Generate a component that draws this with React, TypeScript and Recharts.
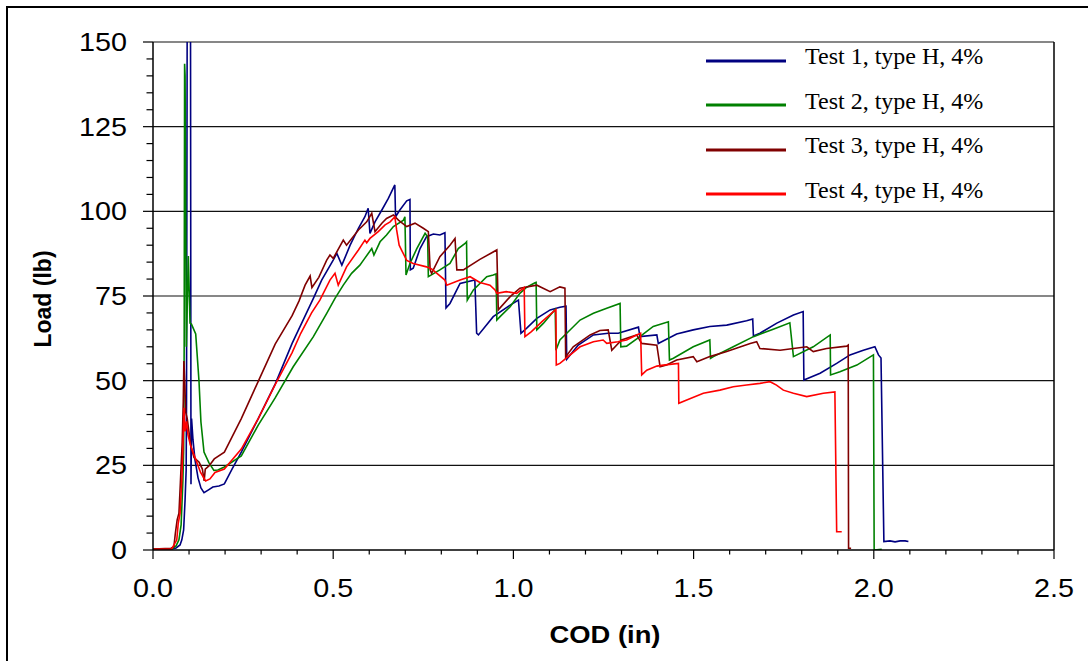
import { LineChart, Line, XAxis, YAxis, ReferenceLine, Legend } from 'recharts';

const ARIAL = '"Liberation Sans", Arial, sans-serif';
const TIMES = '"Liberation Serif", "Times New Roman", serif';

// axis ticks (minor every 0.1 in / 5 lb, labelled every 0.5 in / 25 lb)
const codTicks = [0, 0.1, 0.2, 0.3, 0.4, 0.5, 0.6, 0.7, 0.8, 0.9, 1.0, 1.1, 1.2, 1.3, 1.4, 1.5, 1.6, 1.7, 1.8, 1.9, 2.0, 2.1, 2.2, 2.3, 2.4, 2.5];
const loadTicks = [0, 5, 10, 15, 20, 25, 30, 35, 40, 45, 50, 55, 60, 65, 70, 75, 80, 85, 90, 95, 100, 105, 110, 115, 120, 125, 130, 135, 140, 145, 150];
const gridLoads = [25, 50, 75, 100, 125, 150];

// [COD (in), Load (lb)]
const test1 = [
  [0, 0.2], [0.053, 0.3], [0.064, 0.6], [0.075, 1.5], [0.08, 3], [0.085, 5.9], [0.089, 14.8], [0.092, 23.6],
  [0.093, 44], [0.095, 165], [0.104, 165], [0.1054, 19.4], [0.107, 38.8], [0.111, 32.5], [0.1165, 26.6],
  [0.125, 21.3], [0.133, 18.3], [0.1415, 16.9], [0.153, 17.7], [0.166, 18.6], [0.183, 18.9], [0.198, 19.5],
  [0.22, 24], [0.245, 28.9], [0.292, 38.8], [0.339, 49], [0.386, 61], [0.445, 74.3], [0.468, 79.7], [0.5, 85.6],
  [0.51, 87.6], [0.524, 84.1], [0.547, 90], [0.57, 95], [0.588, 98.4], [0.597, 100.9], [0.602, 93.5],
  [0.616, 96.9], [0.635, 100.4], [0.653, 103.8], [0.671, 107.8], [0.673, 98.4], [0.685, 100.4], [0.704, 103.1],
  [0.713, 103.5], [0.714, 82.7], [0.722, 83.2], [0.741, 89], [0.759, 92.5], [0.778, 93.3], [0.796, 93],
  [0.81, 93.7], [0.813, 71.5], [0.824, 72.8], [0.852, 78.7], [0.893, 79.7], [0.898, 64], [0.903, 63.5],
  [0.944, 68.9], [0.991, 72.3], [1.014, 73.8], [1.021, 64], [1.037, 65.5], [1.065, 68.4], [1.102, 70.9],
  [1.129, 71.7], [1.146, 72], [1.148, 56.3], [1.18, 60.5], [1.222, 63.5], [1.263, 64], [1.291, 64],
  [1.347, 65.8], [1.351, 63], [1.398, 63.5], [1.402, 61], [1.453, 63.8], [1.499, 65], [1.545, 66], [1.592, 66.4],
  [1.647, 67.7], [1.664, 68.2], [1.666, 63.2], [1.684, 64], [1.731, 67], [1.777, 69.4], [1.804, 70.4],
  [1.806, 50.2], [1.851, 52.2], [1.897, 55.1], [1.934, 57.6], [1.971, 59], [2.003, 60], [2.013, 57.6],
  [2.02, 56.7], [2.028, 2.5], [2.045, 2.7], [2.059, 2.4], [2.073, 2.7], [2.087, 2.7], [2.096, 2.5],
];

const test2 = [
  [0, 0.3], [0.053, 0.4], [0.064, 1.2], [0.072, 3], [0.078, 7.4], [0.083, 20.7], [0.085, 29.5], [0.0865, 60],
  [0.0877, 143.6], [0.089, 140], [0.0925, 60], [0.098, 86.8], [0.1027, 67], [0.1066, 66.7], [0.1185, 63.8],
  [0.1276, 49.9], [0.133, 37.8], [0.1415, 28.9], [0.155, 25.8], [0.169, 23.5], [0.18, 23.6], [0.198, 24.5],
  [0.245, 27.8], [0.292, 36.9], [0.339, 44.9], [0.389, 54.1], [0.445, 63], [0.482, 69.9], [0.505, 74.3],
  [0.528, 78.2], [0.551, 81.7], [0.574, 84.1], [0.584, 85.6], [0.607, 89], [0.613, 87.1], [0.63, 91],
  [0.648, 93], [0.667, 95.5], [0.695, 97.4], [0.699, 98.4], [0.702, 81.2], [0.713, 84.6], [0.732, 89],
  [0.755, 93.5], [0.762, 92.5], [0.764, 80.7], [0.796, 82.7], [0.824, 84.6], [0.847, 89], [0.866, 90.5],
  [0.87, 91], [0.872, 73.8], [0.889, 76.8], [0.926, 80.7], [0.944, 81.2], [0.952, 81.5], [0.954, 67.9],
  [0.963, 68.9], [0.991, 71.8], [1.018, 75.8], [1.037, 77.6], [1.06, 78.9], [1.063, 79], [1.065, 65],
  [1.083, 66.9], [1.111, 70.4], [1.116, 71], [1.118, 59], [1.129, 62], [1.148, 64], [1.185, 67.9],
  [1.222, 69.9], [1.259, 71.4], [1.296, 72.8], [1.298, 60], [1.314, 60.2], [1.351, 63], [1.388, 66],
  [1.43, 67.4], [1.433, 56.1], [1.444, 56.6], [1.499, 60], [1.545, 62], [1.547, 56.6], [1.555, 57.1],
  [1.61, 60], [1.666, 63], [1.721, 65.2], [1.767, 67.1], [1.777, 57.1], [1.832, 60], [1.879, 63.5],
  [1.88, 51.7], [1.906, 52.6], [1.953, 54.6], [1.999, 57.6], [2.001, 0], [2.022, 0.2],
];

const test3 = [
  [0, 0.3], [0.05, 0.5], [0.058, 1], [0.062, 4.9], [0.067, 8.9], [0.072, 10.9], [0.076, 19.9], [0.081, 31.9],
  [0.084, 43.8], [0.0857, 55.8], [0.0885, 48.8], [0.0905, 40.8], [0.095, 38.8], [0.0999, 34.8], [0.1046, 30.9],
  [0.1138, 27.3], [0.128, 25.9], [0.137, 23.9], [0.142, 20.4], [0.145, 23.9], [0.156, 24.9], [0.17, 26.9],
  [0.198, 28.9], [0.245, 38.8], [0.292, 49.8], [0.339, 60.8], [0.386, 69.2], [0.405, 73.5], [0.422, 78.2],
  [0.436, 80.9], [0.441, 77.5], [0.46, 80.5], [0.482, 85.6], [0.491, 87.1], [0.5, 86.1], [0.528, 91.5],
  [0.537, 90], [0.57, 94.5], [0.593, 96.9], [0.607, 99.4], [0.616, 94], [0.635, 96.5], [0.648, 97.9],
  [0.667, 98.9], [0.681, 97.4], [0.704, 95.5], [0.727, 96.5], [0.75, 95], [0.764, 94], [0.769, 82.7],
  [0.773, 81.7], [0.796, 86.6], [0.824, 90], [0.838, 92], [0.843, 82.7], [0.861, 82.7], [0.907, 85.8],
  [0.954, 88.6], [0.958, 70.9], [0.991, 74.8], [1.018, 77.3], [1.065, 78.2], [1.102, 76.3], [1.129, 77.7],
  [1.143, 77.3], [1.145, 57], [1.166, 60], [1.213, 63.5], [1.24, 64.8], [1.263, 65], [1.273, 59], [1.3, 62],
  [1.342, 63.5], [1.356, 61], [1.398, 60.5], [1.407, 54.1], [1.425, 54.6], [1.453, 56.1], [1.499, 57.1],
  [1.509, 55.6], [1.545, 57.1], [1.592, 58.6], [1.657, 61], [1.675, 61.5], [1.684, 59.5], [1.74, 59],
  [1.777, 59.5], [1.814, 60], [1.832, 58.6], [1.869, 59.5], [1.925, 60.2], [1.929, 60.5], [1.93, 0.5],
  [1.937, 0.5],
];

const test4 = [
  [0, 0.2], [0.052, 0.3], [0.066, 3], [0.07, 7.9], [0.075, 10.8], [0.08, 20.7], [0.083, 30], [0.086, 42],
  [0.089, 35], [0.093, 38], [0.097, 34], [0.104, 30.9], [0.118, 26.9], [0.132, 22.9], [0.146, 20.4],
  [0.158, 21], [0.172, 22.9], [0.198, 23.9], [0.245, 29.8], [0.292, 38.8], [0.339, 48.8], [0.386, 58.3],
  [0.41, 64], [0.44, 70], [0.463, 73.8], [0.491, 79.7], [0.505, 81.7], [0.514, 78.2], [0.537, 83.6],
  [0.57, 88.6], [0.588, 91.5], [0.593, 90.7], [0.602, 92], [0.625, 94], [0.644, 96], [0.658, 96.9],
  [0.671, 98.4], [0.676, 94.5], [0.683, 90], [0.69, 88.5], [0.704, 85.5], [0.722, 84.6], [0.759, 83.6],
  [0.773, 83], [0.81, 79.7], [0.815, 78.2], [0.852, 79.7], [0.88, 80.7], [0.907, 79], [0.935, 78.2],
  [0.949, 76.8], [0.954, 75.8], [0.98, 76.3], [1.009, 75.8], [1.03, 77.5], [1.032, 63], [1.05, 64.5],
  [1.08, 67.5], [1.111, 70.4], [1.118, 71], [1.119, 54.6], [1.129, 55.1], [1.185, 60], [1.222, 61.5],
  [1.249, 62], [1.259, 61], [1.29, 61.5], [1.314, 62], [1.342, 63.5], [1.353, 64], [1.356, 51.7],
  [1.37, 53.1], [1.398, 54.3], [1.416, 54.6], [1.458, 55.1], [1.459, 43.3], [1.481, 44.3], [1.527, 46.3],
  [1.573, 47.2], [1.61, 48.2], [1.647, 48.7], [1.684, 49.2], [1.712, 49.7], [1.73, 48.7], [1.749, 47.2],
  [1.777, 46.3], [1.814, 45.3], [1.86, 46.3], [1.892, 46.7], [1.897, 5.4], [1.911, 5.4],
];

const SERIES = [
  { name: 'Test 1, type H, 4%', color: '#000080', points: test1 },
  { name: 'Test 2, type H, 4%', color: '#008000', points: test2 },
  { name: 'Test 3, type H, 4%', color: '#800000', points: test3 },
  { name: 'Test 4, type H, 4%', color: '#ff0000', points: test4 },
];

const toRows = (pts: number[][]) => pts.map(([cod, load]) => ({ cod, load }));

const CodTick = ({ x, y, payload }: any) => {
  const v = payload.value;
  const major = Math.round(v * 10) % 5 === 0;
  return (
    <g>
      <line x1={x} y1={y} x2={x} y2={y + (major ? 9 : 4.5)} stroke="#000" strokeWidth={1.2} />
      {major && (
        <text transform={`translate(${x},${y + 47}) scale(1.15,1)`} textAnchor="middle" fontSize={25} fontFamily={ARIAL} fill="#000">
          {v.toFixed(1)}
        </text>
      )}
    </g>
  );
};

const LoadTick = ({ x, y, payload }: any) => {
  const v = payload.value;
  const major = v % 25 === 0;
  return (
    <g>
      <line x1={x - (major ? 10 : 6.5)} y1={y} x2={x} y2={y} stroke="#000" strokeWidth={1.2} />
      {major && (
        <text transform={`translate(${x - 26},${y + 9}) scale(1.15,1)`} textAnchor="end" fontSize={25} fontFamily={ARIAL} fill="#000">
          {v}
        </text>
      )}
    </g>
  );
};

const CodTitle = () => (
  <text transform="translate(605,643) scale(1.14,1)" textAnchor="middle" fontSize={24} fontWeight="bold" fontFamily={ARIAL} fill="#000">
    COD (in)
  </text>
);

const LoadTitle = () => (
  <text transform="translate(51,299) rotate(-90)" textAnchor="middle" fontSize={23} fontWeight="bold" fontFamily={ARIAL} fill="#000">
    Load (lb)
  </text>
);

const renderLegend = (props: any) => (
  <div style={{ fontFamily: TIMES, fontSize: 24, color: '#000' }}>
    {(props.payload || []).map((entry: any) => (
      <div key={entry.value} style={{ display: 'flex', alignItems: 'center', height: 44.5 }}>
        <svg width={80} height={4} style={{ display: 'block' }}>
          <line x1={0} y1={2} x2={80} y2={2} stroke={entry.color} strokeWidth={3} />
        </svg>
        <span style={{ marginLeft: 19, position: 'relative', top: -4, whiteSpace: 'nowrap' }}>{entry.value}</span>
      </div>
    ))}
  </div>
);

export default function App() {
  return (
    <div style={{ position: 'absolute', left: 0, top: 0, width: 1088, height: 661, background: '#fff', overflow: 'hidden' }}>
      <div
        style={{
          position: 'absolute', left: 6, top: 6, width: 1200, height: 800,
          borderLeft: '2px solid #000', borderTop: '2px solid #000',
        }}
      />
      <div style={{ position: 'absolute', left: 0, top: 0 }}>
        <LineChart width={1088} height={661} margin={{ top: 42, right: 34, bottom: 0, left: 0 }}>
          <XAxis
            type="number"
            dataKey="cod"
            domain={[0, 2.5]}
            ticks={codTicks}
            interval={0}
            allowDataOverflow
            height={111}
            tickSize={0}
            tickMargin={0}
            tickLine={false}
            tick={<CodTick />}
            axisLine={{ stroke: '#000', strokeWidth: 1.5 }}
            label={<CodTitle />}
          />
          <YAxis
            type="number"
            domain={[0, 150]}
            ticks={loadTicks}
            interval={0}
            allowDataOverflow
            width={153}
            tickSize={0}
            tickMargin={0}
            tickLine={false}
            tick={<LoadTick />}
            axisLine={{ stroke: '#000', strokeWidth: 1.5 }}
            label={<LoadTitle />}
          />
          {gridLoads.map((v) => (
            <ReferenceLine key={v} y={v} stroke="#111" strokeWidth={1.2} />
          ))}
          <ReferenceLine x={2.5} stroke="#000" strokeWidth={1.5} />
          <Legend
            layout="vertical"
            align="center"
            verticalAlign="middle"
            content={renderLegend}
            wrapperStyle={{ left: 706, top: 38.5, width: 320, height: 'auto' }}
          />
          {SERIES.map((s) => (
            <Line
              key={s.name}
              name={s.name}
              data={toRows(s.points)}
              dataKey="load"
              type="linear"
              stroke={s.color}
              strokeWidth={1.6}
              dot={false}
              activeDot={false}
              isAnimationActive={false}
            />
          ))}
        </LineChart>
      </div>
    </div>
  );
}
